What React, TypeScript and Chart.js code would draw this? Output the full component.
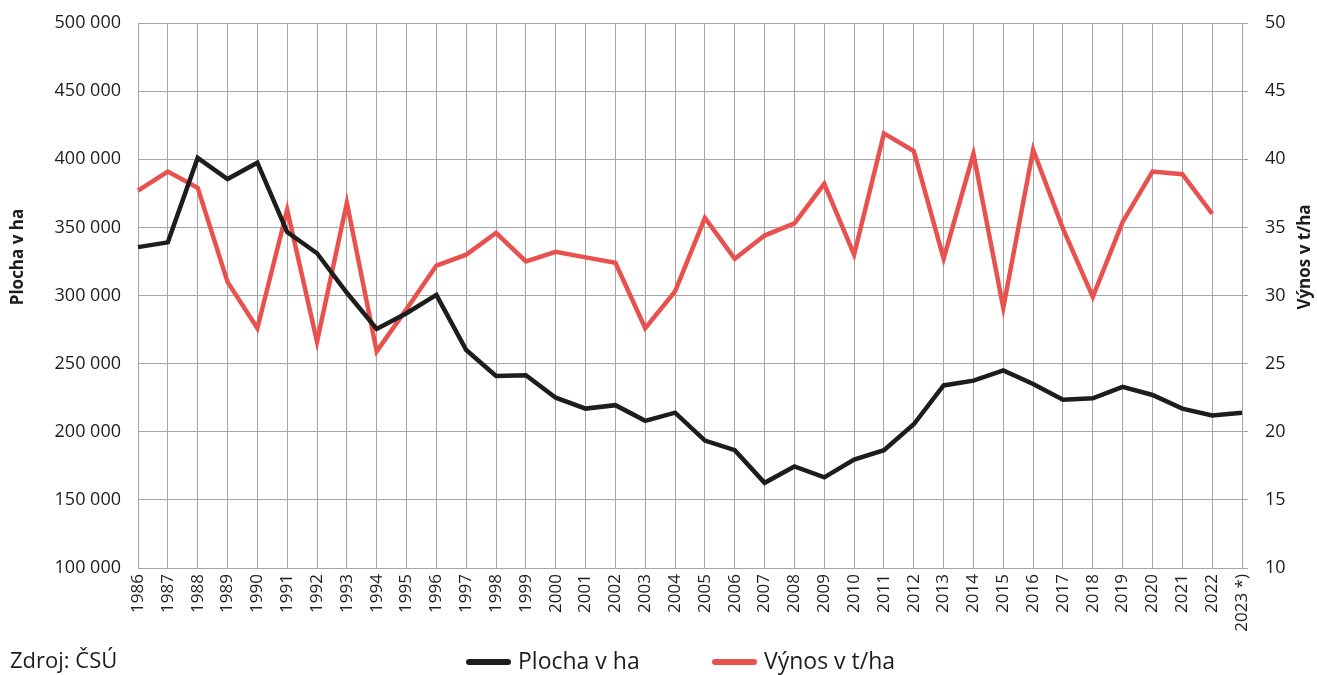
import React, { useEffect, useRef } from "react";
import { Chart, registerables } from "chart.js";

Chart.register(...registerables);

const years = [
  "1986", "1987", "1988", "1989", "1990", "1991", "1992", "1993", "1994", "1995",
  "1996", "1997", "1998", "1999", "2000", "2001", "2002", "2003", "2004", "2005",
  "2006", "2007", "2008", "2009", "2010", "2011", "2012", "2013", "2014", "2015",
  "2016", "2017", "2018", "2019", "2020", "2021", "2022", "2023 *)",
];

const plochaHa = [
  335500, 339000, 401000, 385500, 397500, 346500, 331000, 302000, 275500, 287000,
  300500, 260000, 241000, 241500, 225000, 217000, 219500, 208000, 214000, 193500,
  186500, 162500, 174500, 166500, 179500, 186500, 205500, 234000, 237500, 245000,
  235000, 223500, 224500, 233000, 227000, 217000, 212000, 214000,
];

const vynosTHa = [
  37.7, 39.1, 37.9, 31.0, 27.6, 36.3, 26.6, 36.8, 25.9, 29.0,
  32.2, 33.0, 34.6, 32.5, 33.2, 32.8, 32.4, 27.6, 30.3, 35.7,
  32.7, 34.4, 35.3, 38.2, 33.0, 41.9, 40.6, 32.7, 40.4, 29.1,
  40.7, 34.9, 29.9, 35.4, 39.1, 38.9, 36.0, null,
];

const seriesLabels = ["Plocha v ha", "Výnos v t/ha"];
const axisTitles = ["Plocha v ha", "Výnos v t/ha"];
const sourceText = "Zdroj: ČSÚ";

const FONT = "'Open Sans', 'Noto Sans', sans-serif";
const TEXT = "#1d1d1b";
const GRID = "#a6a6a6";
const BLACK = "#1d1d1b";
const RED = "#e9514f";

const fmt = (v: number) => String(v).replace(/\B(?=(\d{3})+(?!\d))/g, " ");

const extrasPlugin = {
  id: "extras",
  afterDraw(chart: any) {
    const ctx = chart.ctx;
    ctx.save();
    ctx.fillStyle = TEXT;
    // axis titles
    ctx.font = `bold 17px ${FONT}`;
    ctx.textAlign = "center";
    ctx.textBaseline = "middle";
    ctx.save();
    ctx.translate(18, 257);
    ctx.rotate(-Math.PI / 2);
    ctx.fillText(axisTitles[0], 0, 0);
    ctx.restore();
    ctx.save();
    ctx.translate(1305, 257);
    ctx.rotate(-Math.PI / 2);
    ctx.fillText(axisTitles[1], 0, 0);
    ctx.restore();

    // source
    ctx.font = `22px ${FONT}`;
    ctx.textAlign = "left";
    ctx.textBaseline = "middle";
    ctx.fillText(sourceText, 10, 662);

    // legend
    const items = chart.data.datasets.map((d: any) => ({ label: d.label, color: d.borderColor }));
    const starts = [466, 712];
    ctx.font = `23px ${FONT}`;
    items.forEach((it: any, i: number) => {
      const x = starts[i];
      ctx.strokeStyle = it.color;
      ctx.lineWidth = 6;
      ctx.lineCap = "round";
      ctx.beginPath();
      ctx.moveTo(x + 3, 662);
      ctx.lineTo(x + 42, 662);
      ctx.stroke();
      ctx.fillStyle = TEXT;
      ctx.fillText(it.label, x + 52, 662);
    });
    ctx.restore();
  },
};

export default function App() {
  const ref = useRef<HTMLCanvasElement>(null);

  useEffect(() => {
    if (!ref.current) return;
    const chart = new Chart(ref.current, {
      type: "line",
      data: {
        labels: years,
        datasets: [
          {
            label: seriesLabels[0],
            data: plochaHa,
            borderColor: BLACK,
            backgroundColor: BLACK,
            borderWidth: 4.5,
            pointRadius: 0,
            tension: 0,
            yAxisID: "y",
          },
          {
            label: seriesLabels[1],
            data: vynosTHa,
            borderColor: RED,
            backgroundColor: RED,
            borderWidth: 4.5,
            pointRadius: 0,
            tension: 0,
            yAxisID: "y1",
          },
        ],
      },
      options: {
        responsive: false,
        animation: false,
        layout: { padding: { top: 23, left: 0, right: 0, bottom: 0 } },
        plugins: {
          legend: { display: false },
          title: { display: false },
          tooltip: { enabled: false },
        },
        scales: {
          x: {
            offset: false,
            grid: { color: GRID, lineWidth: 1, drawTicks: false },
            border: { color: GRID },
            ticks: {
              autoSkip: false,
              minRotation: 90,
              maxRotation: 90,
              padding: 6,
              color: TEXT,
              font: { family: FONT, size: 17 },
            },
            afterFit: (s: any) => {
              s.height = 107;
              s.paddingLeft = 0;
              s.paddingRight = 0;
            },
          },
          y: {
            position: "left",
            min: 100000,
            max: 500000,
            grid: { color: GRID, lineWidth: 1, drawTicks: false },
            border: { color: GRID },
            ticks: {
              stepSize: 50000,
              padding: 17,
              color: TEXT,
              font: { family: FONT, size: 18 },
              callback: (v: any) => fmt(Number(v)),
            },
            afterFit: (s: any) => {
              s.width = 138;
              s.paddingTop = 0;
              s.paddingBottom = 0;
            },
          },
          y1: {
            position: "right",
            min: 10,
            max: 50,
            grid: { drawOnChartArea: false, color: GRID, tickLength: 6, drawTicks: true },
            border: { color: GRID },
            ticks: {
              stepSize: 5,
              padding: 17,
              color: TEXT,
              font: { family: FONT, size: 18 },
            },
            afterFit: (s: any) => {
              s.width = 75;
              s.paddingTop = 0;
              s.paddingBottom = 0;
            },
          },
        },
      },
      plugins: [extrasPlugin],
    });
    return () => chart.destroy();
  }, []);

  return (
    <div style={{ position: "fixed", left: 0, top: 0, width: 1317, height: 675, background: "#fff" }}>
      <canvas ref={ref} width={1317} height={675} style={{ display: "block" }} />
    </div>
  );
}
